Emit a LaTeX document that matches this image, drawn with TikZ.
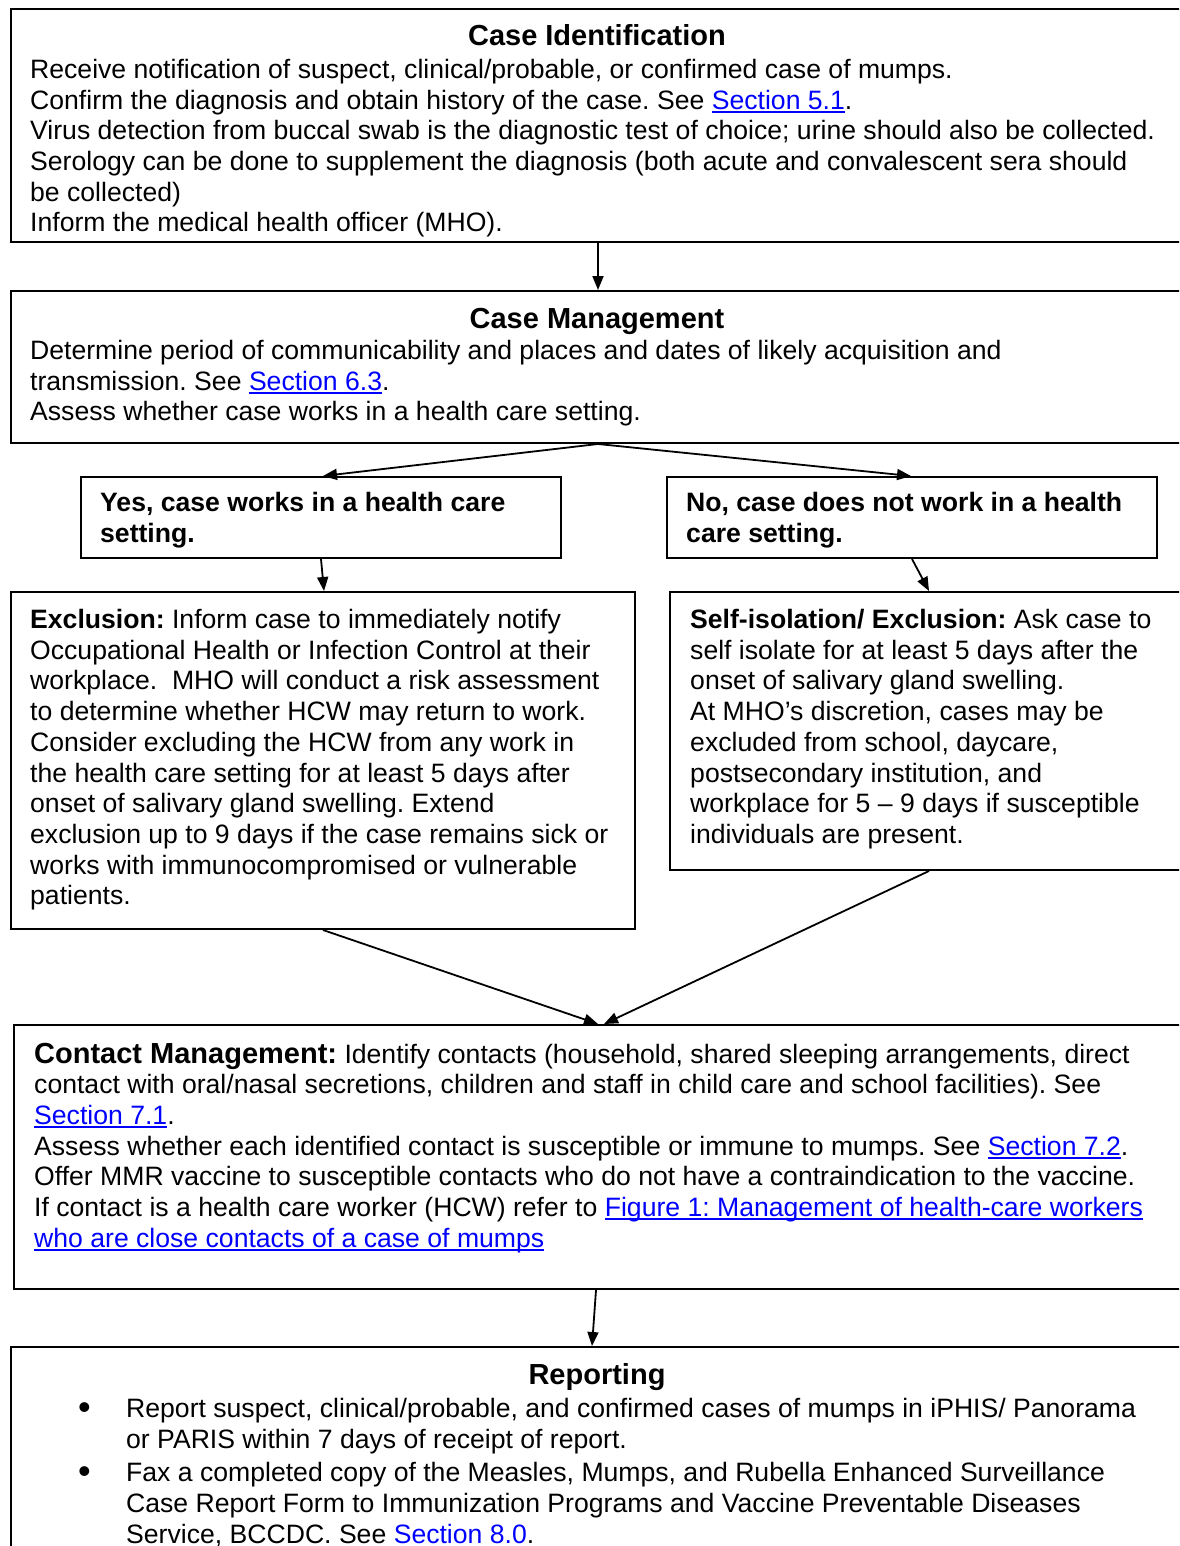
\documentclass[tikz,border=0pt]{standalone}
\usepackage{fontspec}
\setmainfont{Liberation Sans}
\usetikzlibrary{arrows.meta}
\definecolor{lnkblue}{RGB}{0,0,255}
\frenchspacing
\newcommand\bodyfont{\fontsize{26.6}{30.7}\selectfont}
\newcommand\ttlfont{\fontsize{29}{33}\selectfont\bfseries}
\newcommand\lnk[1]{{\color{lnkblue}\setbox0\hbox{#1}\rlap{\rule[-3.4pt]{\wd0}{1.8pt}}\box0}}
\newcommand\plainlnk[1]{{\color{lnkblue}#1}}
\newcommand\boxlines[1]{\begin{tabular}[t]{@{}l@{}}#1\end{tabular}}
\tikzset{
  box/.style={draw, line width=2pt, inner sep=0pt, anchor=north west, rectangle},
  txt/.style={inner sep=0pt, anchor=base west, font=\bodyfont},
  bul/.style={inner sep=0pt, anchor=base west, font=\fontsize{36}{36}\selectfont},
  ttl/.style={inner sep=0pt, anchor=base, font=\ttlfont},
  arr/.style={line width=1.8pt, -{Triangle[length=14pt,width=11pt]}}
}
\begin{document}
\begin{tikzpicture}[x=1pt,y=-1pt]
\useasboundingbox (0,0) rectangle (1179,1546);
\fill[white] (0,0) rectangle (1179,1546);
\clip (0,0) rectangle (1179,1546);

% boxes
\node[box, minimum width=1174pt, minimum height=233pt] (cid) at (10,8) {};
\node[box, minimum width=1174pt, minimum height=152pt] (cm) at (10,290) {};
\node[box, minimum width=480pt, minimum height=81pt] (yes) at (80,476) {};
\node[box, minimum width=490pt, minimum height=81pt] (no) at (666,476) {};
\node[box, minimum width=624pt, minimum height=337pt] (excl) at (10,591) {};
\node[box, minimum width=518pt, minimum height=278pt] (self) at (669,591) {};
\node[box, minimum width=1170pt, minimum height=264pt] (cont) at (13,1024) {};
\node[box, minimum width=1174pt, minimum height=240pt] (rep) at (10,1346) {};

% texts
\node[ttl] (cidt) at (597,46) {Case Identification};
\node[txt] (cidb) at (30,78.5) {\boxlines{%
Receive notification of suspect, clinical/probable, or confirmed case of mumps.\\
Confirm the diagnosis and obtain history of the case. See \lnk{Section 5.1}.\\
Virus detection from buccal swab is the diagnostic test of choice; urine should also be collected.\\
Serology can be done to supplement the diagnosis (both acute and convalescent sera should\\
be collected)\\
Inform the medical health officer (MHO).}};

\node[ttl] (cmt) at (597,328.5) {Case Management};
\node[txt] (cmb) at (30,359.5) {\boxlines{%
Determine period of communicability and places and dates of likely acquisition and\\
transmission. See \lnk{Section 6.3}.\\
Assess whether case works in a health care setting.}};

\node[txt] (yest) at (100,511.5) {\bfseries\boxlines{%
Yes, case works in a health care\\
setting.}};
\node[txt] (not) at (686,511.5) {\bfseries\boxlines{%
No, case does not work in a health\\
care setting.}};

\node[txt] (exclt) at (30,628.5) {\boxlines{%
\textbf{Exclusion:} Inform case to immediately notify\\
Occupational Health or Infection Control at their\\
workplace.\ \ MHO will conduct a risk assessment\\
to determine whether HCW may return to work.\\
Consider excluding the HCW from any work in\\
the health care setting for at least 5 days after\\
onset of salivary gland swelling. Extend\\
exclusion up to 9 days if the case remains sick or\\
works with immunocompromised or vulnerable\\
patients.}};

\node[txt] (selft) at (690,628.5) {\boxlines{%
\textbf{Self-isolation/ Exclusion:} Ask case to\\
self isolate for at least 5 days after the\\
onset of salivary gland swelling.\\
At MHO’s discretion, cases may be\\
excluded from school, daycare,\\
postsecondary institution, and\\
workplace for 5 – 9 days if susceptible\\
individuals are present.}};

\node[txt] (contt) at (34,1063) {\boxlines{%
{\ttlfont Contact Management:} Identify contacts (household, shared sleeping arrangements, direct\\
contact with oral/nasal secretions, children and staff in child care and school facilities). See\\
\lnk{Section 7.1}.\\
Assess whether each identified contact is susceptible or immune to mumps. See \lnk{Section 7.2}.\\
Offer MMR vaccine to susceptible contacts who do not have a contraindication to the vaccine.\\
If contact is a health care worker (HCW) refer to \lnk{Figure 1: Management of health-care workers}\\
\lnk{who are close contacts of a case of mumps}}};

\node[ttl] (rept) at (597,1384.5) {Reporting};
\node[bul] (bul1) at (78,1419) {•};
\node[bul] (bul2) at (78,1483.4) {•};
\node[txt] (repb) at (126,1417.5) {\boxlines{%
Report suspect, clinical/probable, and confirmed cases of mumps in iPHIS/ Panorama\\
or PARIS within 7 days of receipt of report.\\[3pt]
Fax a completed copy of the Measles, Mumps, and Rubella Enhanced Surveillance\\
Case Report Form to Immunization Programs and Vaccine Preventable Diseases\\
Service, BCCDC. See \plainlnk{Section 8.0}.}};

% connectors
\draw[arr] (cid.south) -- (cm.north);
\draw[arr] (cm.south) -- ([xshift=2pt]yes.north);
\draw[arr] (cm.south) -- ([xshift=-1pt]no.north);
\draw[arr] (yes.south) -- ([xshift=1pt]excl.north);
\draw[arr] (no.south) -- (self.north);
\draw[arr] (excl.south) -- ([xshift=-1pt]cont.north);
\draw[arr] (self.south) -- ([xshift=5pt]cont.north);
\draw[arr] ([xshift=-3pt]cont.south) -- ([xshift=-6pt]rep.north);
\end{tikzpicture}
\end{document}
